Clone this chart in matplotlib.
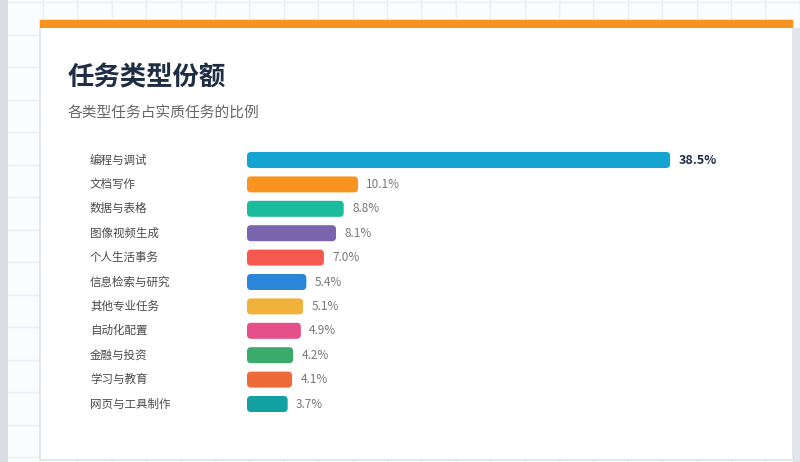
import matplotlib
matplotlib.use("Agg")
import matplotlib.pyplot as plt
from matplotlib.patches import Rectangle, FancyBboxPatch
from matplotlib import transforms

plt.rcParams['font.family'] = ['Noto Sans CJK SC', 'DejaVu Sans']

# ---- data ----
categories = ["编程与调试", "文档写作", "数据与表格", "图像视频生成", "个人生活事务",
              "信息检索与研究", "其他专业任务", "自动化配置", "金融与投资", "学习与教育",
              "网页与工具制作"]
values = [38.5, 10.1, 8.8, 8.1, 7.0, 5.4, 5.1, 4.9, 4.2, 4.1, 3.7]
colors = ["#15A3D1", "#F7931E", "#1ABC9C", "#7B64AE", "#F5584E", "#2B86D9",
          "#F0B23A", "#E6508A", "#3DAA6D", "#EE6A38", "#14A1A3"]
title = "任务类型份额"
subtitle = "各类型任务占实质任务的比例"

W, H = 800, 462
fig = plt.figure(figsize=(W / 100, H / 100), dpi=100)

# ---- background (pixel coordinates) ----
bg = fig.add_axes([0, 0, 1, 1])
bg.set_xlim(0, W)
bg.set_ylim(H, 0)
bg.axis('off')
bg.add_patch(Rectangle((0, 0), W, H, facecolor="#FAFCFD", edgecolor="none", zorder=0))
gx = 43.0
while gx < W:
    bg.axvline(gx, color="#E8F0F4", lw=1, zorder=1)
    gx += 34.4
gy = 2.0
while gy < H:
    bg.axhline(gy, color="#E8F0F4", lw=1, zorder=1)
    gy += 32.5
bg.add_patch(Rectangle((0, 0), 8, H, facecolor="#D9DCE0", edgecolor="none", zorder=2))
# card
bg.add_patch(Rectangle((793, 28), 7, H, facecolor="#E2E6EA", edgecolor="none", zorder=2))
bg.add_patch(Rectangle((40, 20), 753, 440, facecolor="white", edgecolor="#DCE3E8",
                       lw=1.2, zorder=3))
bg.add_patch(Rectangle((40, 20), 753, 8, facecolor="#F7931E", edgecolor="none", zorder=4))

bg.text(68, 78, title, fontsize=19, fontweight='bold', color="#1F2D45",
        va='center', ha='left', zorder=5)
bg.text(68, 114, subtitle, fontsize=10.6, color="#666666",
        va='center', ha='left', zorder=5)

# ---- bar chart ----
x0_px, px_per_unit = 247, 10.99
row_px = 24.4
top_px = 160 - row_px / 2
n = len(categories)
ax_w_px = 790 - x0_px
ax_h_px = row_px * n
ax = fig.add_axes([x0_px / W, (H - top_px - ax_h_px) / H, ax_w_px / W, ax_h_px / H])
ax.set_xlim(0, ax_w_px / px_per_unit)
ax.set_ylim(n - 0.5, -0.5)
ax.axis('off')
ax.patch.set_alpha(0)

bar_h = 16 / row_px
rad_x = 4 / px_per_unit
aspect = (4 / row_px) / rad_x
bars = ax.barh(range(n), values, height=bar_h, color=colors)
for b, c in zip(bars, colors):
    b.set_visible(False)
    fb = FancyBboxPatch((b.get_x(), b.get_y()), b.get_width(), b.get_height(),
                        boxstyle=f"round,pad=0,rounding_size={rad_x}",
                        mutation_aspect=aspect, facecolor=c, edgecolor="none")
    ax.add_patch(fb)

lab_tr = transforms.blended_transform_factory(fig.transFigure, ax.transData)
for i, (cat, v) in enumerate(zip(categories, values)):
    ax.text(90 / W, i, cat, transform=lab_tr, fontsize=8.3, color="#4A4A4A",
            va='center', ha='left')
    if i == 0:
        ax.annotate(f"{v:.1f}%", (v, i), xytext=(6, 0), textcoords='offset points',
                    fontsize=9, fontweight='bold', color="#1F2D45", va='center', ha='left')
    else:
        ax.annotate(f"{v:.1f}%", (v, i), xytext=(6, 0), textcoords='offset points',
                    fontsize=8.5, color="#777777", va='center', ha='left')

fig.savefig("out.png", dpi=100)
